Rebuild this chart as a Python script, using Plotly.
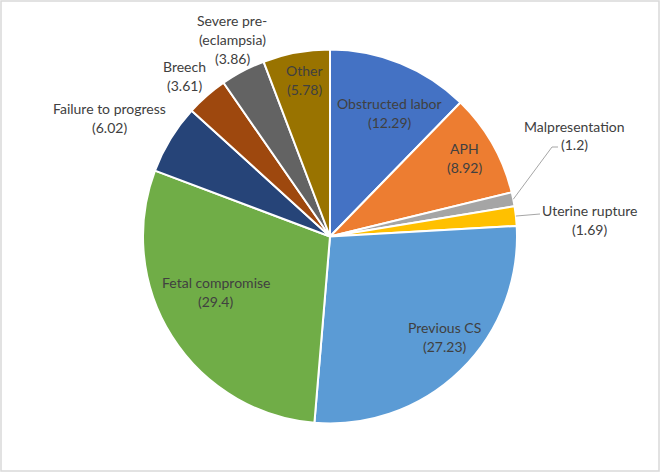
import math
import plotly.graph_objects as go

# ---- data ----
categories = ["Obstructed labor", "APH", "Malpresentation", "Uterine rupture",
              "Previous CS", "Fetal compromise", "Failure to progress",
              "Breech", "Severe pre-(eclampsia)", "Other"]
values = [12.29, 8.92, 1.2, 1.69, 27.23, 29.4, 6.02, 3.61, 3.86, 5.78]
colors = ["#4472C4", "#ED7D31", "#A5A5A5", "#FFC000", "#5B9BD5",
          "#70AD47", "#264478", "#9E480E", "#636363", "#997300"]

# ---- layout / style ----
W, H = 661, 473
CX, CY, R = 330, 236.5, 187
# label block centres (pixels) – styling only
label_pos = {
    "Obstructed labor": (389.5, 113),
    "APH": (464, 158),
    "Malpresentation": (574.5, 135.5),
    "Uterine rupture": (589, 220),
    "Previous CS": (444.5, 336.5),
    "Fetal compromise": (216, 291.5),
    "Failure to progress": (109.5, 118.5),
    "Breech": (184.5, 76),
    "Severe pre-(eclampsia)": (232, 39),
    "Other": (304, 80),
}
# leader line elbow points (pixels) for outside labels
leaders = {
    "Malpresentation": [(552, 147), (558, 147)],
    "Uterine rupture": [(540, 214)],
}
LINE_GAP = 19
FONT = dict(family="Lato, 'Open Sans', sans-serif", size=14, color="#404040")


def px(x):
    return x / W


def py(y):
    return 1 - y / H


fig = go.Figure(go.Pie(
    labels=categories,
    values=values,
    sort=False,
    direction="clockwise",
    rotation=0,
    marker=dict(colors=colors, line=dict(color="white", width=2)),
    textinfo="none",
    hoverinfo="label+value",
    showlegend=False,
    domain=dict(x=[px(CX - R), px(CX + R)], y=[py(CY + R), py(CY - R)]),
))

annotations = []
total = sum(values)
cum = 0.0
shapes = []
for cat, val in zip(categories, values):
    mid = (cum + val / 2) / total * 2 * math.pi
    cum += val
    if "pre-" in cat:
        head, tail = cat.split("pre-", 1)
        lines = [head + "pre-", tail, f"({val:g})"]
    else:
        lines = [cat, f"({val:g})"]
    bx, by = label_pos[cat]
    n = len(lines)
    for i, ln in enumerate(lines):
        yy = by + (i - (n - 1) / 2) * LINE_GAP
        annotations.append(dict(
            x=px(bx), y=py(yy), xref="paper", yref="paper",
            text=ln, showarrow=False, xanchor="center", yanchor="middle",
            font=FONT,
        ))
    if cat in leaders:
        sx = CX + R * math.sin(mid)
        sy = CY - R * math.cos(mid)
        pts = [(sx, sy)] + leaders[cat]
        path = "M " + " L ".join(f"{px(a)},{py(b)}" for a, b in pts)
        shapes.append(dict(type="path", xref="paper", yref="paper", path=path,
                           line=dict(color="#A6A6A6", width=1)))

# outer chart border
shapes.append(dict(type="rect", xref="paper", yref="paper",
                   x0=px(1), y0=py(471), x1=px(659), y1=py(1),
                   line=dict(color="#D9D9D9", width=1.5)))

fig.update_layout(
    width=W, height=H,
    margin=dict(l=0, r=0, t=0, b=0),
    paper_bgcolor="white",
    plot_bgcolor="white",
    annotations=annotations,
    shapes=shapes,
)

fig.write_html("out.html",
               config={"displayModeBar": False},
               post_script="document.body.style.margin='0';"
                           "document.body.style.overflow='hidden';")
